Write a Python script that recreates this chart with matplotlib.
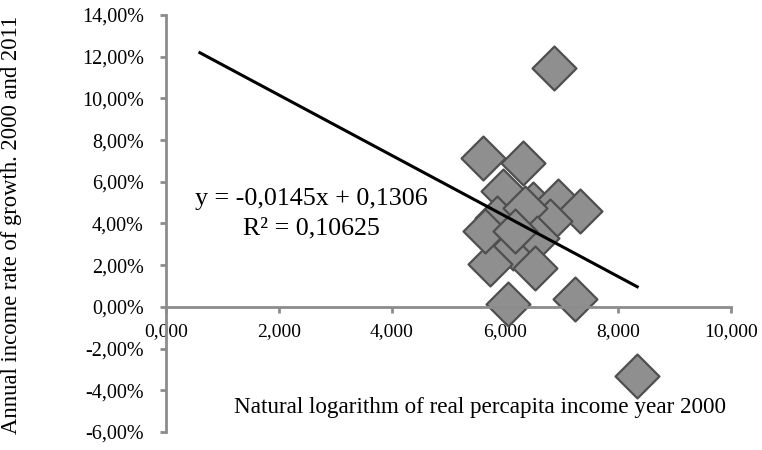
import numpy as np
import matplotlib.pyplot as plt
from matplotlib.ticker import FuncFormatter

# ln of real per capita income in 2000 and annual growth rate (%)
ln_income = [6.87, 5.61, 6.32, 5.96, 6.50, 6.94, 7.33, 5.86, 6.80, 6.35,
             6.14, 6.57, 5.73, 6.53, 5.65, 6.18, 6.05, 7.24, 8.34]
growth = [11.44, 7.12, 6.92, 5.58, 4.95, 5.10, 4.60, 4.28, 4.13, 4.76,
          2.84, 3.30, 2.07, 1.88, 3.65, 3.65, 0.14, 0.38, -3.30]

slope = -0.0145
intercept = 0.1306
trend_x = [0.6, 8.34]

plt.rcParams['font.family'] = ['Liberation Serif', 'DejaVu Serif']

fig = plt.figure(figsize=(7.62, 4.5), dpi=100)
ax = fig.add_axes([166/762, 1-432/450, (731-166)/762, (432-15)/450])

ty = [(slope*x + intercept)*100 for x in trend_x]
ax.plot(trend_x, ty, color='black', lw=2.2, zorder=3)
ax.scatter(ln_income, growth, marker='D', s=500, facecolor='#8f8f8f',
           edgecolor='#4f4f4f', linewidth=1.6, zorder=2)

ax.set_xlim(0, 10)
ax.set_ylim(-6, 14)
ax.set_xticks(np.arange(0, 10.1, 2))
ax.set_yticks(np.arange(-6, 14.1, 2))
ax.xaxis.set_major_formatter(FuncFormatter(lambda v, p: f'{v:.3f}'.replace('.', ',')))
ax.yaxis.set_major_formatter(FuncFormatter(lambda v, p: f'{v:.2f}%'.replace('.', ',')))

for s in ['top', 'right']:
    ax.spines[s].set_visible(False)
ax.spines['bottom'].set_position(('data', 0))
for s in ['left', 'bottom']:
    ax.spines[s].set_color('#8c8c8c')
    ax.spines[s].set_linewidth(2)
ax.tick_params(axis='both', color='#8c8c8c', width=2, length=4)
ax.tick_params(axis='x', labelsize=14, pad=8)
ax.tick_params(axis='y', labelsize=14.5, pad=12)

ax.text(2.57, 4.47, 'y = -0,0145x + 0,1306\nR² = 0,10625', ha='center', va='center',
        fontsize=18.7, linespacing=1.4, multialignment='center')

fig.text(480/762, 1-407/450, 'Natural logarithm of real percapita income year 2000',
         ha='center', va='center', fontsize=16.7)
fig.text(12/762, 1-225/450, 'Annual income rate of growth. 2000 and 2011', rotation=90,
         ha='center', va='center', fontsize=16.3)

fig.savefig('out.png', dpi=100)
